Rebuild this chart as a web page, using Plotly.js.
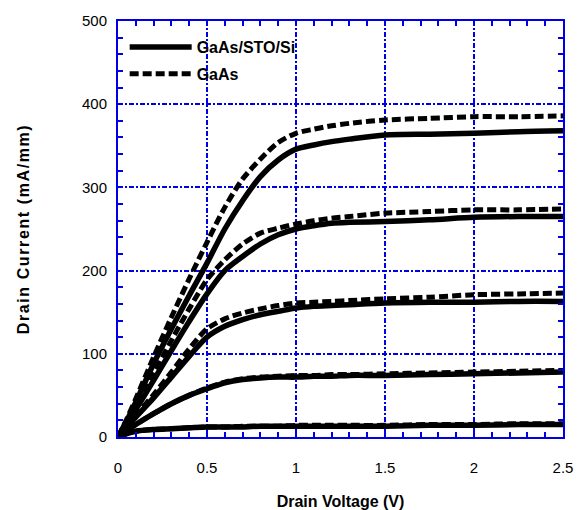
<!DOCTYPE html>
<html>
<head>
<meta charset="utf-8">
<script src="https://cdn.plot.ly/plotly-3.0.1.min.js"></script>
<style>
html,body{margin:0;padding:0;background:#fff}
#chart{width:579px;height:510px}
#chart .ytitle{letter-spacing:1.6px}
</style>
</head>
<body>
<div id="chart"></div>
<script>
// Drain voltage (V)
const vds = [0, 0.05, 0.1, 0.2, 0.3, 0.4, 0.5, 0.6, 0.7, 0.8, 0.9, 1.0, 1.1, 1.2, 1.3, 1.5, 1.75, 2.0, 2.25, 2.5];

// GaAs/STO/Si (solid), five gate-voltage curves, mA/mm
const stoA = [0, 20, 42, 88, 130, 170, 209, 250, 284, 313, 333, 346, 351, 355, 358, 363, 364, 365, 367, 368];
const stoB = [0, 15, 33, 68, 104, 139, 172, 200, 217, 232, 243, 250, 254, 257, 258, 259, 261, 264, 265, 265];
const stoC = [0, 12, 24, 47, 72, 97, 120, 133, 141, 147, 151, 155, 157, 158, 159, 161, 162, 162, 163, 163];
const stoD = [0, 8, 15, 28, 40, 50, 58, 65, 69, 71, 72, 72, 73, 73, 74, 74, 75, 76, 77, 78];
const stoE = [0, 4, 7, 9, 10, 11, 12, 12, 12, 13, 13, 13, 13, 13, 13, 13, 14, 14, 15, 15];

// GaAs (dashed), five gate-voltage curves, mA/mm
const gaasA = [0, 22, 46, 96, 144, 190, 234, 276, 310, 334, 354, 365, 370, 374, 377, 381, 383, 385, 385, 386];
const gaasB = [0, 17, 37, 76, 116, 154, 189, 213, 232, 245, 251, 256, 260, 263, 265, 269, 271, 273, 273, 274];
const gaasC = [0, 13, 26, 51, 78, 106, 130, 142, 149, 154, 158, 161, 162, 163, 164, 166, 168, 171, 172, 173];
const gaasD = [0, 8, 15, 28, 40, 50, 59, 66, 70, 72, 73, 74, 74, 75, 75, 76, 77, 78, 79, 80];
const gaasE = [0, 4, 7, 9, 10, 11, 12, 12, 13, 13, 13, 14, 14, 14, 14, 14, 15, 15, 16, 16];

const seriesNames = ['GaAs/STO/Si', 'GaAs'];
const xTickVals = [0, 0.5, 1, 1.5, 2, 2.5];
const xTickText = ['0', '0.5', '1', '1.5', '2', '2.5'];
const yTickVals = [0, 100, 200, 300, 400, 500];
const yTickText = ['0', '100', '200', '300', '400', '500'];

const solidLine = {color: '#000', width: 5.5, dash: 'solid', shape: 'spline', smoothing: 0.8};
const dashLine = {color: '#000', width: 5, dash: '9px,4px', shape: 'spline', smoothing: 0.8};

const traces = [];
[stoA, stoB, stoC, stoD, stoE].forEach((ys, i) => {
  traces.push({x: vds, y: ys, type: 'scatter', mode: 'lines', line: solidLine,
    name: seriesNames[0], legendgroup: 'sto', showlegend: i === 0, hoverinfo: 'x+y'});
});
[gaasA, gaasB, gaasC, gaasD, gaasE].forEach((ys, i) => {
  traces.push({x: vds, y: ys, type: 'scatter', mode: 'lines', line: dashLine,
    name: seriesNames[1], legendgroup: 'gaas', showlegend: i === 0, hoverinfo: 'x+y'});
});

const blue = '#0000e6';
const font = 'Arial, "Liberation Sans", sans-serif';
const axisCommon = {
  showline: true, linecolor: blue, linewidth: 2, mirror: 'ticks',
  ticks: 'inside', ticklen: 5, tickcolor: blue, tickwidth: 2,
  showgrid: true, gridcolor: blue, gridwidth: 2, griddash: '5px,2px,2px,2px',
  zeroline: false,
  tickfont: {family: font, size: 15, color: '#000'}
};

const layout = {
  width: 579, height: 510,
  margin: {l: 118, r: 16, t: 21, b: 73},
  paper_bgcolor: '#fff', plot_bgcolor: '#fff',
  showlegend: true,
  legend: {x: 0.015, y: 0.978, xanchor: 'left', yanchor: 'top', bgcolor: 'rgba(0,0,0,0)',
    font: {family: font, size: 16, weight: 'bold', color: '#000'},
    itemwidth: 62, tracegroupgap: 3},
  xaxis: Object.assign({}, axisCommon, {
    range: [0, 2.5], tickmode: 'array', tickvals: xTickVals, ticktext: xTickText,
    ticklabelstandoff: 16,
    minor: {dtick: 0.1, ticks: 'inside', ticklen: 5, tickcolor: blue, tickwidth: 2, showgrid: false},
    title: {text: 'Drain Voltage (V)', standoff: 21,
      font: {family: font, size: 16, weight: 'bold', color: '#000'}}
  }),
  yaxis: Object.assign({}, axisCommon, {
    range: [0, 500], tickmode: 'array', tickvals: yTickVals, ticktext: yTickText,
    ticklabelstandoff: 6,
    minor: {dtick: 20, ticks: 'inside', ticklen: 5, tickcolor: blue, tickwidth: 2, showgrid: false},
    title: {text: 'Drain Current (mA/mm)', standoff: 48,
      font: {family: font, size: 16, weight: 'bold', color: '#000'}}
  })
};

Plotly.newPlot('chart', traces, layout, {displayModeBar: false, staticPlot: true});
</script>
</body>
</html>
